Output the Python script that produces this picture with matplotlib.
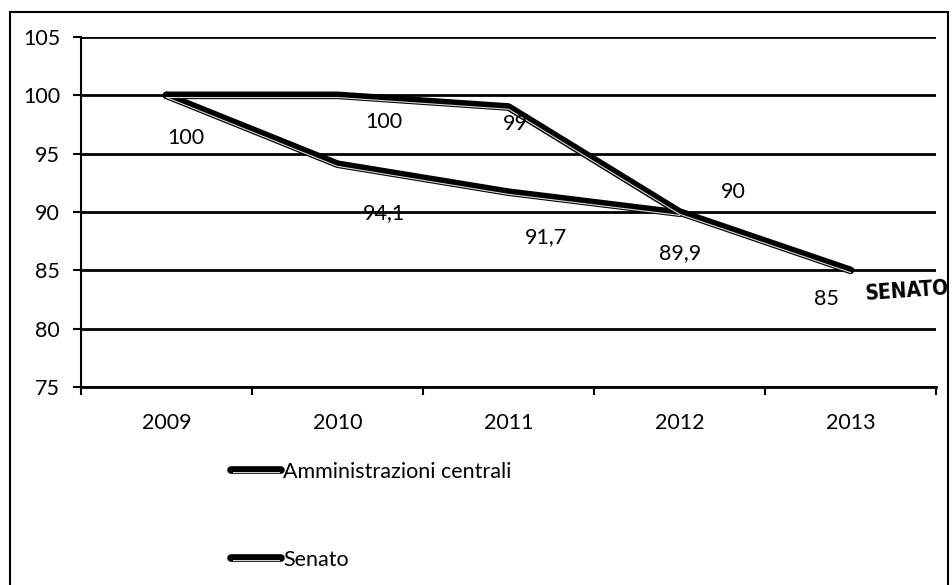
import matplotlib
matplotlib.use("Agg")
import matplotlib.pyplot as plt
from matplotlib.lines import Line2D
from matplotlib.patches import Rectangle
import matplotlib.transforms as mtransforms

years = ["2009", "2010", "2011", "2012", "2013"]
amministrazioni = [100, 94.1, 91.7, 89.9]
senato = [100, 100, 99, 90, 85]
amm_labels = ["100", "94,1", "91,7", "89,9"]
sen_labels = ["", "100", "99", "90", "85"]
yticks = [75, 80, 85, 90, 95, 100, 105]
series_names = ["Amministrazioni centrali", "Senato"]

plt.rcParams['font.family'] = ['Lato', 'DejaVu Sans']
FS = 15.5

fig = plt.figure(figsize=(9.53, 5.85), dpi=100)
W, H = 953, 585
ax = fig.add_axes([81 / W, 1 - 387 / H, (936 - 81) / W, (387 - 37) / H])

xs_a = list(range(len(amministrazioni)))
xs_s = list(range(len(senato)))

def draw_series(x, y):
    ax.plot(x, y, color='black', lw=5.5, solid_capstyle='round', solid_joinstyle='round', zorder=4)
    off = mtransforms.offset_copy(ax.transData, fig=fig, x=0, y=-2.2, units='dots')
    ax.plot(x, y, color='#d8d8d8', lw=0.8, transform=off, zorder=5)

draw_series(xs_s, senato)
draw_series(xs_a, amministrazioni)

amm_off = [(19, -43), (46, -49), (37, -45), (1, -40)]
sen_off = [(0, 0), (46, -27), (7, -17), (54, 20), (-24, -29)]
for i, (v, t) in enumerate(zip(amministrazioni, amm_labels)):
    dx, dy = amm_off[i]
    ax.annotate(t, (i, v), xytext=(dx * 0.72, dy * 0.72), textcoords='offset points',
                ha='center', va='center', fontsize=FS, zorder=6)
for i, (v, t) in enumerate(zip(senato, sen_labels)):
    if not t:
        continue
    dx, dy = sen_off[i]
    ax.annotate(t, (i, v), xytext=(dx * 0.72, dy * 0.72), textcoords='offset points',
                ha='center', va='center', fontsize=FS, zorder=6)

ax.set_xlim(-0.5, len(years) - 0.5)
ax.set_ylim(75, 105)
ax.set_yticks(yticks)
ax.set_yticklabels([str(v) for v in yticks], fontsize=FS)
ax.yaxis.grid(True, color='black', lw=2)
ax.set_axisbelow(True)
ax.set_xticks(range(len(years)))
ax.set_xticklabels(years, fontsize=FS)
ax.tick_params(axis='x', length=0, pad=19)
ax.set_xticks([i - 0.5 for i in range(len(years) + 1)], minor=True)
ax.tick_params(axis='x', which='minor', length=6, width=1.5, direction='out')
ax.tick_params(axis='y', length=6, width=1.5, pad=9)
for s in ['top', 'right']:
    ax.spines[s].set_visible(False)
ax.spines['left'].set_linewidth(1.5)
ax.spines['bottom'].set_linewidth(2)

# handwritten note
ax.annotate("SENATO", (len(years) - 1, senato[-1]), xytext=(57 * 0.72, -21 * 0.72),
            textcoords='offset points', ha='center', va='center', fontsize=15,
            rotation=4, family=['DejaVu Sans'], fontstretch='condensed', fontweight='bold')

# legend (drawn manually to match the spaced layout)
for name, yy in zip(series_names, [470, 558]):
    yf = 1 - yy / H
    fig.add_artist(Line2D([231 / W, 281 / W], [yf, yf], color='black', lw=5.5,
                          solid_capstyle='round', transform=fig.transFigure))
    fig.add_artist(Line2D([233 / W, 279 / W], [yf - 1.5 / H, yf - 1.5 / H], color='#d8d8d8', lw=0.7,
                          transform=fig.transFigure))
    fig.text(283 / W, yf, name, fontsize=FS, ha='left', va='center_baseline')

# outer border
fig.patches.append(Rectangle((10 / W, -0.05), (948 - 10) / W, (1 - 12 / H) + 0.05,
                             transform=fig.transFigure, fill=False, edgecolor='black', lw=1.5))

fig.savefig("out.png", dpi=100)
